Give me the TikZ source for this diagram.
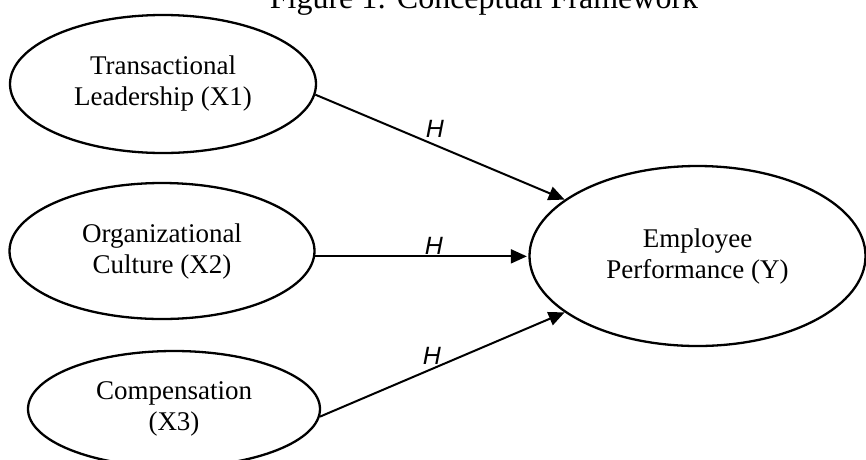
\documentclass[tikz,border=0pt]{standalone}
\usepackage{fontspec}
\setmainfont{Liberation Serif}
\newfontfamily\hfont{Liberation Sans}
\usetikzlibrary{arrows.meta,shapes.geometric,positioning}

\begin{document}
\begin{tikzpicture}[x=1pt, y=-1pt,
    construct/.style={ellipse, draw=black, line width=2.3pt, inner sep=0pt,
                      align=center, font=\fontsize{27}{31}\selectfont},
    path/.style={line width=2pt, -{Triangle[length=16pt, width=14pt]}},
    hyp/.style={font=\fontsize{25}{25}\selectfont\hfont\itshape, inner sep=0pt}]
  \useasboundingbox (0,0) rectangle (866,459);
  \node[anchor=base, font=\fontsize{32}{36}\selectfont] (title) at (484,8)
    {Figure 1: Conceptual Framework};
  \node[construct, minimum width=306pt, minimum height=138pt] (x1) at (163,84)
    {Transactional\\Leadership (X1)};
  \node[construct, minimum width=305pt, minimum height=136pt] (x2) at (162,251)
    {Organizational\\Culture (X2)};
  \node[construct, minimum width=292pt, minimum height=116pt] (x3) at (174,409)
    {Compensation\\(X3)};
  \node[construct, minimum width=336pt, minimum height=180pt] (y) at (697.5,256)
    {Employee\\Performance (Y)};
  \draw[path] (x1.-4.5) -- node[hyp, pos=0.48, above=7pt] (h1) {H} (y.157.5);
  \draw[path, shorten >=1.5pt] (x2.-2.5) -- node[hyp, pos=0.557, above=1pt] (h2) {H} (x2.-2.5 -| y.west);
  \draw[path] (x3.-3.5) -- node[hyp, pos=0.458, above=3pt] (h3) {H} (y.203);
\end{tikzpicture}
\end{document}
